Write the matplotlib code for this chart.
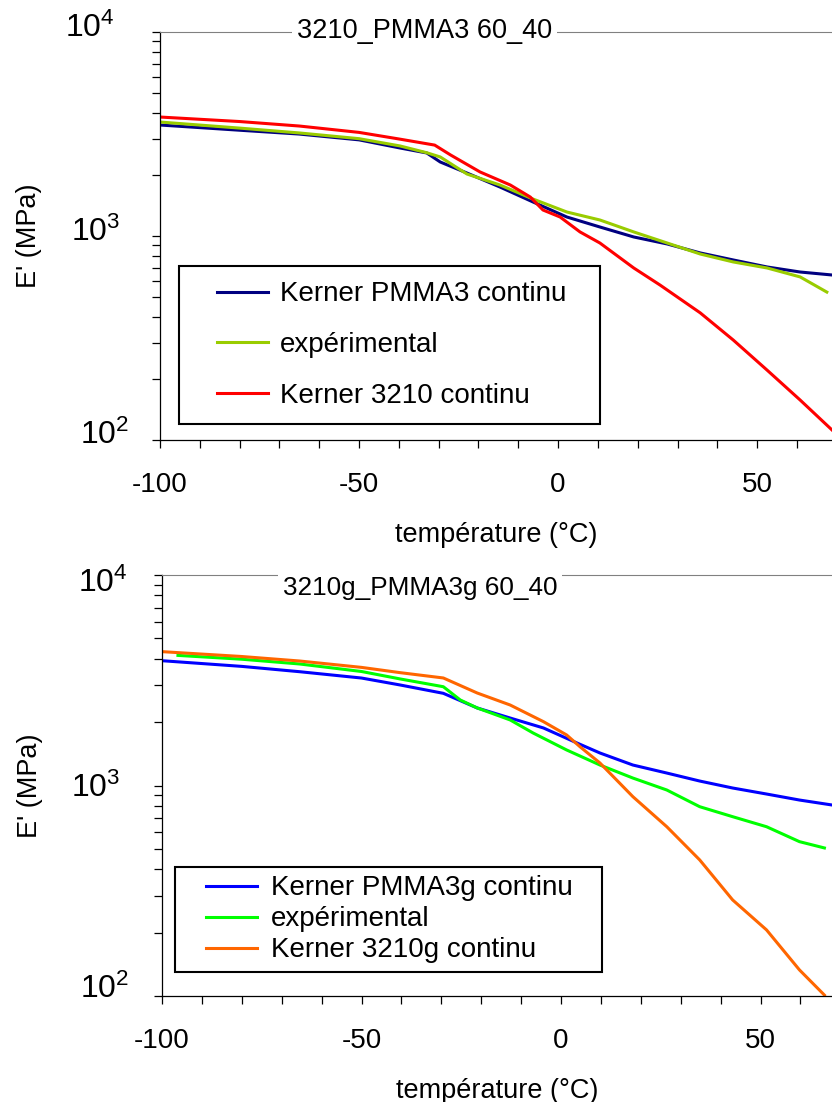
import matplotlib
matplotlib.use("Agg")
import matplotlib.pyplot as plt
import numpy as np
from matplotlib.legend_handler import HandlerLine2D
from matplotlib.lines import Line2D
from matplotlib.transforms import offset_copy
from matplotlib.ticker import FixedLocator, MultipleLocator, LogLocator, NullFormatter, FuncFormatter

plt.rcParams['font.family'] = ['Liberation Sans', 'DejaVu Sans']
plt.rcParams['mathtext.fontset'] = 'custom'
plt.rcParams['mathtext.rm'] = 'Liberation Sans'
plt.rcParams['mathtext.it'] = 'Liberation Sans:italic'
plt.rcParams['mathtext.bf'] = 'Liberation Sans:bold'

# ---------------- data (temperature in °C, E' in MPa) ----------------
# top panel: 3210_PMMA3 60_40
top_title = "3210_PMMA3 60_40"
top_labels = ["Kerner PMMA3 continu", "expérimental", "Kerner 3210 continu"]
top_colors = ["#000080", "#99CC00", "#FF0000"]

T_top_kpmma = [-100, -80, -65, -50, -39.7, -33, -29.6, -22.9, -14.6, -6.3, 2.2, 10.5, 19, 27.4, 35.7, 44, 52.5, 60.8, 68.8]
E_top_kpmma = [3500, 3300, 3160, 2960, 2700, 2553, 2305, 2036, 1738, 1468, 1239, 1107, 989, 914, 826, 763, 705, 666, 644]

T_top_exp = [-100, -80, -65, -50, -39.7, -33, -29.6, -22.9, -14.6, -6.3, 2.2, 10.5, 19, 27.4, 35.7, 44, 52.5, 60.8, 67.5]
E_top_exp = [3620, 3380, 3200, 3000, 2763, 2560, 2440, 2013, 1778, 1518, 1311, 1198, 1047, 924, 816, 746, 697, 630, 531]

T_top_k3210 = [-100, -80, -65, -50, -40, -31, -27, -19.6, -12, -7, -3.8, 0.5, 5.5, 10.5, 19, 25.6, 35.7, 44, 52.5, 60.8, 68.8]
E_top_k3210 = [3830, 3640, 3460, 3220, 2990, 2790, 2495, 2060, 1778, 1553, 1341, 1239, 1047, 924, 697, 575, 420, 309, 220, 157, 112]

# bottom panel: 3210g_PMMA3g 60_40
bot_title = "3210g_PMMA3g 60_40"
bot_labels = ["Kerner PMMA3g continu", "expérimental", "Kerner 3210g continu"]
bot_colors = ["#0000FF", "#00FF00", "#FF6600"]

T_bot_kpmma = [-100, -80, -65.5, -50, -40.25, -29.5, -21, -12.75, -4.4, 4, 9.75, 18, 26.5, 34.75, 43, 51.5, 59.75, 67.9]
E_bot_kpmma = [3916, 3680, 3472, 3240, 3001, 2741, 2335, 2092, 1876, 1592, 1427, 1251, 1146, 1050, 973, 911, 853, 808]

T_bot_exp = [-96, -80, -65.5, -50, -40.25, -29.5, -25.25, -21, -12.75, -7, 1.4, 9.75, 18, 26.5, 34.75, 43, 51.5, 59.75, 66]
E_bot_exp = [4150, 3980, 3778, 3480, 3206, 2946, 2548, 2335, 2048, 1776, 1475, 1251, 1085, 952, 793, 711, 637, 541, 505]

T_bot_k3210 = [-100, -80, -65.5, -50, -40.25, -29.5, -21, -12.75, -4.4, 1.4, 4.75, 9.75, 18, 26.5, 34.75, 43, 51.5, 59.75, 66]
E_bot_k3210 = [4324, 4100, 3903, 3640, 3435, 3242, 2750, 2412, 2010, 1738, 1528, 1279, 885, 637, 443, 286, 206, 133, 101]

x_major = [-100, -50, 0, 50]
y_decades = [2, 3, 4]
x_label = "température (°C)"
y_label = "E' (MPa)"

# ---------------- helpers ----------------
FS = 19.5
LFS = 20


class ShiftedLine(HandlerLine2D):
    def __init__(self, shift_em, **kw):
        super().__init__(**kw)
        self.shift_em = shift_em

    def create_artists(self, legend, orig_handle, xdescent, ydescent, width, height, fontsize, trans):
        s = self.shift_em * fontsize
        xdata = np.array([-xdescent + s, -xdescent + width])
        ydata = np.full_like(xdata, (height - ydescent) / 2.0)
        ln = Line2D(xdata, ydata)
        self.update_prop(ln, orig_handle, legend)
        ln.set_drawstyle('default')
        ln.set_marker('')
        ln.set_transform(trans)
        return [ln]


def style_axes(ax, xmax, title, title_xy, title_fs, ylab_x, ylab_offsets):
    ax.set_yscale('log')
    ax.set_ylim(100, 10000)
    ax.set_xlim(-100, xmax)
    ax.spines['right'].set_visible(False)
    ax.spines['top'].set_color('#808080')
    ax.spines['top'].set_linewidth(0.8)
    for s in ('left', 'bottom'):
        ax.spines[s].set_linewidth(0.9)
        ax.spines[s].set_color('black')
    ax.xaxis.set_major_locator(FixedLocator(x_major))
    ax.xaxis.set_minor_locator(MultipleLocator(10))
    ax.yaxis.set_major_locator(FixedLocator([10.0 ** d for d in y_decades]))
    ax.yaxis.set_minor_locator(LogLocator(base=10, subs=np.arange(2, 10), numticks=10))
    ax.yaxis.set_minor_formatter(NullFormatter())
    ax.yaxis.set_major_formatter(NullFormatter())
    ax.xaxis.set_major_formatter(FuncFormatter(lambda v, p: '%d' % v))
    ax.tick_params(axis='x', which='both', direction='out', length=6, width=0.9,
                   top=False, labelsize=20, pad=17)
    ax.tick_params(axis='y', which='both', direction='out', length=6, width=0.9,
                   right=False)
    # decade labels (10^n), placed individually as in the reference
    for d, (dx, dy) in zip(y_decades, ylab_offsets):
        tr = offset_copy(ax.get_yaxis_transform(), fig=ax.figure, x=dx, y=dy, units='dots')
        ax.text(0, 10.0 ** d, r'$\mathregular{10^{%d}}$' % d, transform=tr,
                ha='right', va='baseline', fontsize=23, clip_on=False)
    ax.set_xlabel(x_label, fontsize=FS, labelpad=17)
    ax.set_ylabel(y_label, fontsize=FS)
    ax.yaxis.set_label_coords(ylab_x, 0.5)
    ax.text(title_xy[0], title_xy[1], title, transform=ax.transAxes, fontsize=title_fs,
            ha='center', va='baseline', zorder=5, clip_on=False,
            bbox=dict(boxstyle='square,pad=0.18', facecolor='white', edgecolor='none'))


fig = plt.figure(figsize=(8.32, 11.02), dpi=100)

# ---------------- top panel ----------------
ax1 = fig.add_axes([160 / 832, 1 - 440 / 1102, 672 / 832, 408 / 1102])
l1, = ax1.plot(T_top_kpmma, E_top_kpmma, color=top_colors[0], lw=2.2, label=top_labels[0])
l2, = ax1.plot(T_top_exp, E_top_exp, color=top_colors[1], lw=2.2, label=top_labels[1])
l3, = ax1.plot(T_top_k3210, E_top_k3210, color=top_colors[2], lw=2.2, label=top_labels[2])
# offsets (px) of each decade label: right edge from spine, baseline from tick
style_axes(ax1, 68.8, top_title, (0.393, 0.985), FS, -0.1756,
           [(-31, -4), (-40, -5), (-45, -5)])
h = ShiftedLine(0.80)
leg1 = ax1.legend(handles=[l1, l2, l3], loc='upper left', mode='expand',
                  bbox_to_anchor=(0.0283, 0.0466, 0.6265, 0.3799),
                  fontsize=LFS, frameon=True, fancybox=False, edgecolor='black',
                  framealpha=1, borderpad=0.55, labelspacing=0.89, handlelength=2.64,
                  handletextpad=0.43, borderaxespad=0,
                  handler_map={l1: h, l2: h, l3: h})
leg1.get_frame().set_linewidth(1.5)

# ---------------- bottom panel ----------------
ax2 = fig.add_axes([162 / 832, 1 - 996 / 1102, 670 / 832, 421 / 1102])
m1, = ax2.plot(T_bot_kpmma, E_bot_kpmma, color=bot_colors[0], lw=2.2, label=bot_labels[0])
m2, = ax2.plot(T_bot_exp, E_bot_exp, color=bot_colors[1], lw=2.2, label=bot_labels[1])
m3, = ax2.plot(T_bot_k3210, E_bot_k3210, color=bot_colors[2], lw=2.2, label=bot_labels[2])
style_axes(ax2, 67.9, bot_title, (0.385, 0.9525), 18.8, -0.1776,
           [(-33, -2), (-42, -11), (-34, -17)])
h2 = ShiftedLine(0.80)
leg2 = ax2.legend(handles=[m1, m2, m3], loc='upper left', mode='expand',
                  bbox_to_anchor=(0.0194, 0.0618, 0.6373, 0.2446),
                  fontsize=LFS, frameon=True, fancybox=False, edgecolor='black',
                  framealpha=1, borderpad=0.3, labelspacing=0.18, handlelength=2.67,
                  handletextpad=0.47, borderaxespad=0,
                  handler_map={m1: h2, m2: h2, m3: h2})
leg2.get_frame().set_linewidth(1.5)

fig.savefig("out.png", dpi=100)
